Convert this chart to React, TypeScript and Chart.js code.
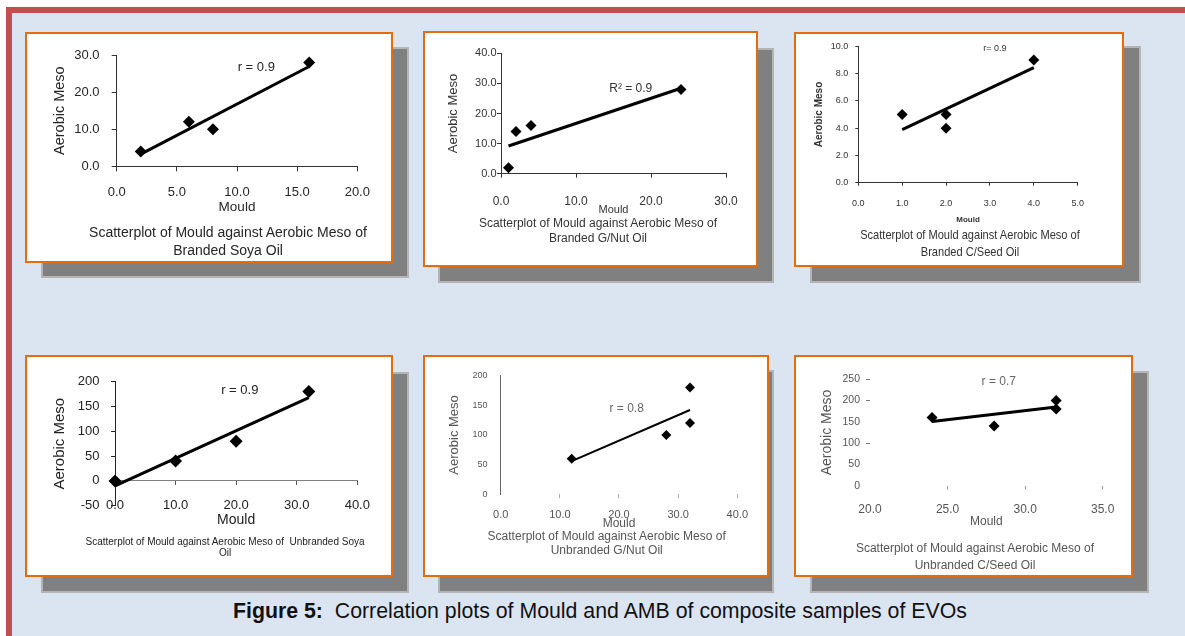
import React, { useEffect, useRef } from 'react';
import { Chart, registerables } from 'chart.js';

Chart.register(...registerables);

const FONT = "'Liberation Sans', Arial, Helvetica, sans-serif";
Chart.defaults.font.family = FONT;

// ---------------- DATA ----------------
// Branded Soya Oil
const soyaBrandedMould = [2, 6, 8, 16];
const soyaBrandedAMB = [4, 12, 10, 28];
const soyaBrandedTrendX = [2, 16];
const soyaBrandedTrendY = [3.3, 26.9];
const soyaBrandedXTicks = [0, 5, 10, 15, 20];
const soyaBrandedYTicks = [0, 10, 20, 30];

// Branded G/Nut Oil
const gnutBrandedMould = [1, 2, 4, 24];
const gnutBrandedAMB = [2, 14, 16, 28];
const gnutBrandedTrendX = [1, 24];
const gnutBrandedTrendY = [9.2, 28.4];
const gnutBrandedXTicks = [0, 10, 20, 30];
const gnutBrandedYTicks = [0, 10, 20, 30, 40];

// Branded C/Seed Oil
const cseedBrandedMould = [1, 2, 2, 4];
const cseedBrandedAMB = [5, 5, 4, 9];
const cseedBrandedTrendX = [1, 4];
const cseedBrandedTrendY = [3.9, 8.45];
const cseedBrandedXTicks = [0, 1, 2, 3, 4, 5];
const cseedBrandedYTicks = [0, 2, 4, 6, 8, 10];

// Unbranded Soya Oil
const soyaUnbrandedMould = [0, 10, 20, 32];
const soyaUnbrandedAMB = [0, 40, 80, 180];
const soyaUnbrandedTrendX = [0, 32];
const soyaUnbrandedTrendY = [-10, 168];
const soyaUnbrandedXTicks = [0, 10, 20, 30, 40];
const soyaUnbrandedYTicks = [-50, 0, 50, 100, 150, 200];

// Unbranded G/Nut Oil
const gnutUnbrandedMould = [12, 28, 32, 32];
const gnutUnbrandedAMB = [60, 100, 120, 180];
const gnutUnbrandedTrendX = [12, 32];
const gnutUnbrandedTrendY = [56, 142];
const gnutUnbrandedXTicks = [0, 10, 20, 30, 40];
const gnutUnbrandedYTicks = [0, 50, 100, 150, 200];

// Unbranded C/Seed Oil
const cseedUnbrandedMould = [24, 28, 32, 32];
const cseedUnbrandedAMB = [160, 140, 200, 180];
const cseedUnbrandedTrendX = [24, 32];
const cseedUnbrandedTrendY = [151, 185];
const cseedUnbrandedXTicks = [20, 25, 30, 35];
const cseedUnbrandedYTicks = [0, 50, 100, 150, 200, 250];

const correlationLabels = ['r = 0.9', 'R\u00B2 = 0.9', 'r= 0.9', 'r = 0.9', 'r = 0.8', 'r = 0.7'];
const captionLines = [
  ['Scatterplot of Mould against Aerobic Meso of', 'Branded Soya Oil'],
  ['Scatterplot of Mould against Aerobic Meso of', 'Branded G/Nut Oil'],
  ['Scatterplot of Mould against Aerobic Meso of', 'Branded C/Seed Oil'],
  ['Scatterplot of Mould against Aerobic Meso of  Unbranded Soya', 'Oil'],
  ['Scatterplot of Mould against Aerobic Meso of', 'Unbranded G/Nut Oil'],
  ['Scatterplot of Mould against Aerobic Meso of', 'Unbranded C/Seed Oil'],
];

// ---------------- TYPES ----------------
type Font = { size: number; family?: string; weight?: string };
type PanelData = {
  mould: number[]; amb: number[]; trendX: number[]; trendY: number[];
  xTicks: number[]; yTicks: number[]; label: string; caption: string[];
};
type Layout = {
  box: number[]; shadow: number[]; area: number[];
  xDec: number; yDec: number; xZeroLine?: boolean;
  xTickFont: Font; yTickFont: Font; tickColor: string;
  xLabelY: number; yLabelRight: number;
  xTickLen: number; yTickLen: number;
  xBorder: string | null; yBorder: string | null; xTickColor: string; yTickColor: string;
  xMarkSkip?: number[]; yMarkSkip?: number[];
  xTitleFont: Font; xTitleY: number; yTitleFont: Font; yTitleX: number; titleColor: string;
  annot: { x: number; y: number; font: Font; color: string };
  pointR: number; lineW: number;
  cap: { cx: number; ys: number[]; font: Font; color: string; stretch?: number };
};

// ---------------- LAYOUT (page pixel positions) ----------------
const layouts: Layout[] = [
  {
    box: [25, 32, 368, 231], shadow: [41, 47, 368, 231], area: [116.7, 357.3, 55, 166.3],
    xDec: 1, yDec: 1,
    xTickFont: { size: 13 }, yTickFont: { size: 13 }, tickColor: '#262626',
    xLabelY: 192.7, yLabelRight: 99.5, xTickLen: 5, yTickLen: 5,
    xBorder: '#333', yBorder: '#333', xTickColor: '#333', yTickColor: '#333',
    xTitleFont: { size: 13.5 }, xTitleY: 207, yTitleFont: { size: 14.5 }, yTitleX: 60, titleColor: '#262626',
    annot: { x: 11.6, y: 26.6, font: { size: 13 }, color: '#262626' },
    pointR: 6, lineW: 3,
    cap: { cx: 228, ys: [232, 250], font: { size: 14 }, color: '#262626' },
  },
  {
    box: [423, 31, 335, 236], shadow: [438, 48, 336, 235], area: [501, 726, 53.3, 173.7],
    xDec: 1, yDec: 1,
    xTickFont: { size: 12 }, yTickFont: { size: 11 }, tickColor: '#333',
    xLabelY: 201.7, yLabelRight: 496.5, xTickLen: 4, yTickLen: 4,
    xBorder: '#333', yBorder: '#333', xTickColor: '#333', yTickColor: '#333',
    xTitleFont: { size: 11 }, xTitleY: 210, yTitleFont: { size: 13 }, yTitleX: 453, titleColor: '#333',
    annot: { x: 17.3, y: 28.1, font: { size: 12 }, color: '#333' },
    pointR: 5.5, lineW: 3,
    cap: { cx: 598, ys: [223.3, 238.3], font: { size: 12 }, color: '#333' },
  },
  {
    box: [794, 32, 330, 235], shadow: [810, 46, 331, 237], area: [858.3, 1077.7, 40.7, 182.7],
    xDec: 1, yDec: 1,
    xTickFont: { size: 9 }, yTickFont: { size: 9 }, tickColor: '#333',
    xLabelY: 203.3, yLabelRight: 848.3, xTickLen: 3, yTickLen: 3,
    xBorder: '#333', yBorder: '#333', xTickColor: '#333', yTickColor: '#333',
    xTitleFont: { size: 8, weight: 'bold' }, xTitleY: 220, yTitleFont: { size: 10, weight: 'bold' }, yTitleX: 819.3, titleColor: '#333',
    annot: { x: 3.11, y: 9.82, font: { size: 9 }, color: '#333' },
    pointR: 5.5, lineW: 3,
    cap: { cx: 970, ys: [235, 251.7], font: { size: 13.5 }, color: '#333', stretch: 0.82 },
  },
  {
    box: [25, 355, 368, 222], shadow: [41, 372, 368, 221], area: [115, 357.3, 381.7, 505.7],
    xDec: 1, yDec: 0, xZeroLine: true,
    xTickFont: { size: 13 }, yTickFont: { size: 13 }, tickColor: '#222',
    xLabelY: 505.7, yLabelRight: 99.5, xTickLen: 4, yTickLen: 4,
    xBorder: '#808080', yBorder: '#222', xTickColor: '#555', yTickColor: '#222',
    xTitleFont: { size: 14 }, xTitleY: 520, yTitleFont: { size: 15 }, yTitleX: 60, titleColor: '#222',
    annot: { x: 20.6, y: 182, font: { size: 13 }, color: '#222' },
    pointR: 6.5, lineW: 3,
    cap: { cx: 225, ys: [541.7, 553.3], font: { size: 10 }, color: '#222' },
  },
  {
    box: [423, 355, 346, 222], shadow: [438, 370, 336, 223], area: [500.7, 737.3, 375, 494.3],
    xDec: 1, yDec: 0,
    xTickFont: { size: 11 }, yTickFont: { size: 9 }, tickColor: '#555',
    xLabelY: 515, yLabelRight: 487.5, xTickLen: 4, yTickLen: 0,
    xBorder: null, yBorder: '#666', xTickColor: '#aaa', yTickColor: '#666',
    xMarkSkip: [0],
    xTitleFont: { size: 12 }, xTitleY: 524, yTitleFont: { size: 13 }, yTitleX: 454, titleColor: '#555',
    annot: { x: 21.3, y: 144, font: { size: 12 }, color: '#666' },
    pointR: 5, lineW: 2,
    cap: { cx: 606.7, ys: [536, 550], font: { size: 12 }, color: '#555' },
  },
  {
    box: [794, 355, 339, 222], shadow: [810, 371, 339, 222], area: [870, 1102.7, 379.3, 485.7],
    xDec: 1, yDec: 0,
    xTickFont: { size: 12 }, yTickFont: { size: 10.5 }, tickColor: '#555',
    xLabelY: 510, yLabelRight: 860, xTickLen: 4, yTickLen: 4,
    xBorder: null, yBorder: null, xTickColor: '#999', yTickColor: '#777',
    xMarkSkip: [20], yMarkSkip: [0, 50, 150],
    xTitleFont: { size: 12 }, xTitleY: 521.7, yTitleFont: { size: 14 }, yTitleX: 826.7, titleColor: '#555',
    annot: { x: 28.3, y: 244, font: { size: 12 }, color: '#666' },
    pointR: 5.5, lineW: 3,
    cap: { cx: 975, ys: [548.3, 565], font: { size: 12 }, color: '#555' },
  },
];

const panelData: PanelData[] = [
  { mould: soyaBrandedMould, amb: soyaBrandedAMB, trendX: soyaBrandedTrendX, trendY: soyaBrandedTrendY, xTicks: soyaBrandedXTicks, yTicks: soyaBrandedYTicks, label: correlationLabels[0], caption: captionLines[0] },
  { mould: gnutBrandedMould, amb: gnutBrandedAMB, trendX: gnutBrandedTrendX, trendY: gnutBrandedTrendY, xTicks: gnutBrandedXTicks, yTicks: gnutBrandedYTicks, label: correlationLabels[1], caption: captionLines[1] },
  { mould: cseedBrandedMould, amb: cseedBrandedAMB, trendX: cseedBrandedTrendX, trendY: cseedBrandedTrendY, xTicks: cseedBrandedXTicks, yTicks: cseedBrandedYTicks, label: correlationLabels[2], caption: captionLines[2] },
  { mould: soyaUnbrandedMould, amb: soyaUnbrandedAMB, trendX: soyaUnbrandedTrendX, trendY: soyaUnbrandedTrendY, xTicks: soyaUnbrandedXTicks, yTicks: soyaUnbrandedYTicks, label: correlationLabels[3], caption: captionLines[3] },
  { mould: gnutUnbrandedMould, amb: gnutUnbrandedAMB, trendX: gnutUnbrandedTrendX, trendY: gnutUnbrandedTrendY, xTicks: gnutUnbrandedXTicks, yTicks: gnutUnbrandedYTicks, label: correlationLabels[4], caption: captionLines[4] },
  { mould: cseedUnbrandedMould, amb: cseedUnbrandedAMB, trendX: cseedUnbrandedTrendX, trendY: cseedUnbrandedTrendY, xTicks: cseedUnbrandedXTicks, yTicks: cseedUnbrandedYTicks, label: correlationLabels[5], caption: captionLines[5] },
];

const cf = (f: Font) => ({ size: f.size, family: f.family || FONT, weight: (f.weight || 'normal') as any, lineHeight: 1.2 });
const lh = (f: Font) => f.size * 1.2;
const markColor = (color: string, skip?: number[]) => (c: any) =>
  skip && c.tick && skip.includes(c.tick.value) ? 'rgba(0,0,0,0)' : color;

function Panel({ d, lay }: { d: PanelData; lay: Layout }) {
  const ref = useRef<HTMLCanvasElement | null>(null);
  const [bx, by, bw, bh] = lay.box;
  const cx = bx + 2, cy = by + 2, cw = bw - 4, ch = bh - 4;

  useEffect(() => {
    const canvas = ref.current;
    if (!canvas) return;
    const [L, R, T, B] = lay.area;
    const yW = L - cx;
    const xH = cy + ch - B;
    const xTL = lay.xZeroLine ? 0 : lay.xTickLen;
    const xPad = lay.xLabelY - B - xTL - lh(lay.xTickFont) / 2;
    const yPad = L - lay.yTickLen - lay.yLabelRight;
    const xTitlePad = cy + ch - lay.xTitleY - lh(lay.xTitleFont) / 2;
    const yTitlePad = lay.yTitleX - cx - lh(lay.yTitleFont) / 2;
    const xMin = d.xTicks[0], xMax = d.xTicks[d.xTicks.length - 1];
    const yMin = d.yTicks[0], yMax = d.yTicks[d.yTicks.length - 1];
    const setTicks = (vals: number[]) => (axis: any) => { axis.ticks = vals.map((v) => ({ value: v })); };
    const xTickLabels = {
      autoSkip: false, maxRotation: 0, minRotation: 0, padding: xPad,
      font: cf(lay.xTickFont), color: lay.tickColor,
      callback: (v: any) => Number(v).toFixed(lay.xDec),
    };
    const xTitle = { display: true, text: 'Mould', font: cf(lay.xTitleFont), color: lay.titleColor, padding: { top: 0, bottom: xTitlePad } };

    const scales: any = {};
    if (lay.xZeroLine) {
      // axis line and tick marks crossing at AMB = 0
      scales.x = {
        type: 'linear', axis: 'x', position: { y: 0 }, min: xMin, max: xMax,
        afterBuildTicks: setTicks(d.xTicks),
        ticks: { display: false },
        grid: { display: true, drawOnChartArea: false, drawTicks: true, tickLength: lay.xTickLen, tickColor: markColor(lay.xTickColor, lay.xMarkSkip), tickWidth: 1 },
        border: { display: true, color: lay.xBorder || '#000', width: 1 },
        title: { display: false },
      };
      // axis title at the bottom
      scales.x2 = {
        type: 'linear', axis: 'x', position: 'bottom', min: xMin, max: xMax,
        afterBuildTicks: setTicks(d.xTicks),
        afterFit: (s: any) => { s.height = xH; },
        ticks: { display: false },
        grid: { display: false, drawTicks: false },
        border: { display: false },
        title: xTitle,
      };
      // tick labels at the low end of the value axis
      scales.x3 = {
        type: 'linear', axis: 'x', position: { y: yMin }, min: xMin, max: xMax,
        afterBuildTicks: setTicks(d.xTicks),
        ticks: xTickLabels,
        grid: { display: false, drawTicks: false },
        border: { display: false },
        title: { display: false },
      };
    } else {
      scales.x = {
        type: 'linear', axis: 'x', position: 'bottom', min: xMin, max: xMax,
        afterBuildTicks: setTicks(d.xTicks),
        afterFit: (s: any) => { s.height = xH; },
        ticks: xTickLabels,
        grid: { display: true, drawOnChartArea: false, drawTicks: lay.xTickLen > 0, tickLength: lay.xTickLen, tickColor: markColor(lay.xTickColor, lay.xMarkSkip), tickWidth: 1 },
        border: { display: !!lay.xBorder, color: lay.xBorder || '#000', width: 1 },
        title: xTitle,
      };
    }
    scales.y = {
      type: 'linear', axis: 'y', position: 'left', min: yMin, max: yMax,
      afterBuildTicks: setTicks(d.yTicks),
      afterFit: (s: any) => { s.width = yW; },
      ticks: {
        autoSkip: false, padding: yPad, font: cf(lay.yTickFont), color: lay.tickColor,
        callback: (v: any) => Number(v).toFixed(lay.yDec),
      },
      grid: { display: true, drawOnChartArea: false, drawTicks: lay.yTickLen > 0, tickLength: lay.yTickLen, tickColor: markColor(lay.yTickColor, lay.yMarkSkip), tickWidth: 1 },
      border: { display: !!lay.yBorder, color: lay.yBorder || '#000', width: 1 },
      title: { display: true, text: 'Aerobic Meso', font: cf(lay.yTitleFont), color: lay.titleColor, padding: { top: yTitlePad, bottom: 0 } },
    };

    const annotPlugin = {
      id: 'corrLabel',
      afterDatasetsDraw(chart: any) {
        const { ctx } = chart;
        const f = lay.annot.font;
        ctx.save();
        ctx.font = `${f.weight || 'normal'} ${f.size}px ${f.family || FONT}`;
        ctx.fillStyle = lay.annot.color;
        ctx.textAlign = 'center';
        ctx.textBaseline = 'middle';
        ctx.fillText(d.label, chart.scales.x.getPixelForValue(lay.annot.x), chart.scales.y.getPixelForValue(lay.annot.y));
        ctx.restore();
      },
    };

    const chart = new Chart(canvas, {
      type: 'scatter',
      data: {
        datasets: [
          {
            data: d.mould.map((x, i) => ({ x, y: d.amb[i] })),
            pointStyle: 'rectRot', pointRadius: lay.pointR, pointHoverRadius: lay.pointR,
            backgroundColor: '#000', borderColor: '#000', borderWidth: 0, clip: false as any, order: 0,
          } as any,
          {
            data: d.trendX.map((x, i) => ({ x, y: d.trendY[i] })),
            showLine: true, pointRadius: 0, pointHoverRadius: 0,
            borderColor: '#000', backgroundColor: '#000', borderWidth: lay.lineW, clip: false as any, order: 1,
          } as any,
        ],
      },
      options: {
        responsive: false, animation: false, devicePixelRatio: 1, events: [],
        layout: { padding: { left: 0, top: T - cy, right: cx + cw - R, bottom: 0 } },
        plugins: { legend: { display: false }, tooltip: { enabled: false }, title: { display: false } },
        scales,
      } as any,
      plugins: [annotPlugin],
    });
    return () => chart.destroy();
  }, []);

  const [sx, sy, sw, sh] = lay.shadow;
  const capLH = lh(lay.cap.font);
  return (
    <>
      <div style={{ position: 'absolute', left: sx, top: sy, width: sw, height: sh, boxSizing: 'border-box', background: '#808080', border: '2px solid #b4b4b4' }} />
      <div style={{ position: 'absolute', left: bx, top: by, width: bw, height: bh, boxSizing: 'border-box', background: '#ffffff', border: '2px solid #e46c0a' }} />
      <canvas ref={ref} width={cw} height={ch} style={{ position: 'absolute', left: cx, top: cy, width: cw, height: ch }} />
      {d.caption.map((line, i) => (
        <div key={i} style={{
          position: 'absolute', left: lay.cap.cx - 200, width: 400, top: lay.cap.ys[i] - capLH / 2,
          lineHeight: capLH + 'px', fontSize: lay.cap.font.size, fontFamily: lay.cap.font.family || FONT,
          textAlign: 'center', whiteSpace: 'pre', color: lay.cap.color,
          transform: lay.cap.stretch ? `scaleX(${lay.cap.stretch})` : undefined, transformOrigin: 'center',
        }}>{line}</div>
      ))}
    </>
  );
}

export default function App() {
  return (
    <div style={{ position: 'fixed', left: 0, top: 0, width: 1185, height: 636, background: '#ffffff', overflow: 'hidden', fontFamily: FONT }}>
      <div style={{ position: 'absolute', left: 6, top: 7, width: 1179, height: 629, background: '#c0504d' }} />
      <div style={{ position: 'absolute', left: 12, top: 13, width: 1173, height: 623, background: '#dbe5f1' }} />
      {panelData.map((d, i) => <Panel key={i} d={d} lay={layouts[i]} />)}
      <div style={{ position: 'absolute', left: 233, top: 601, fontSize: 21.3, lineHeight: '21px', whiteSpace: 'pre', color: '#111' }}>
        <b>Figure 5:</b>{'  Correlation plots of Mould and AMB of composite samples of EVOs'}
      </div>
    </div>
  );
}
